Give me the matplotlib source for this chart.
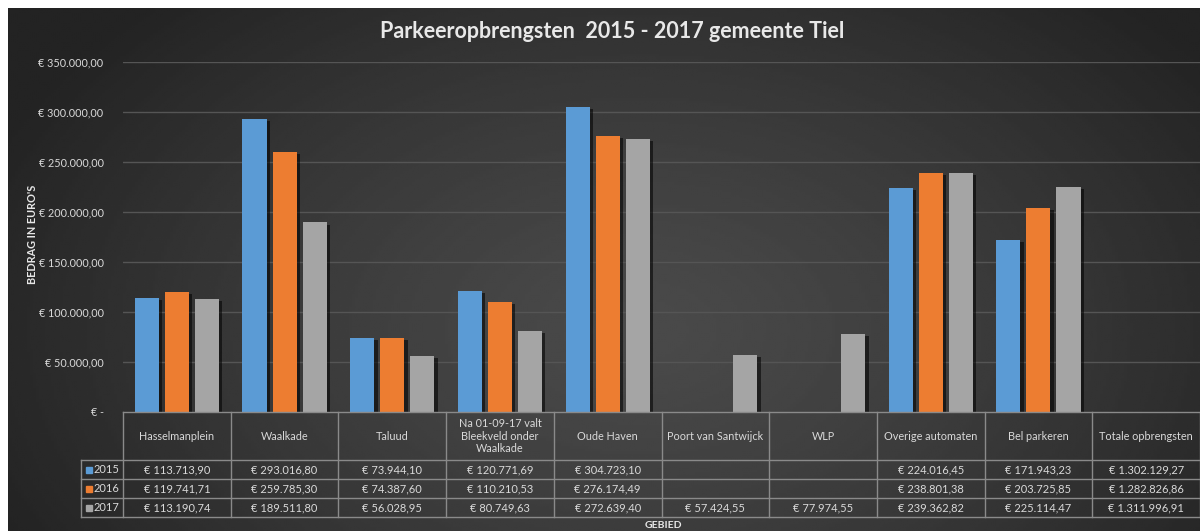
import numpy as np
import matplotlib.pyplot as plt
import matplotlib.patheffects as pe
from matplotlib.transforms import blended_transform_factory

plt.rcParams['font.family'] = ['Lato', 'DejaVu Sans']

gebieden = ['Hasselmanplein', 'Waalkade', 'Taluud',
            'Na 01-09-17 valt\nBleekveld onder\nWaalkade', 'Oude Haven',
            'Poort van Santwijck', 'WLP', 'Overige automaten', 'Bel parkeren',
            'Totale opbrengsten']
jaren = ['2015', '2016', '2017']
opbr_2015 = [113713.90, 293016.80, 73944.10, 120771.69, 304723.10, None, None,
             224016.45, 171943.23, 1302129.27]
opbr_2016 = [119741.71, 259785.30, 74387.60, 110210.53, 276174.49, None, None,
             238801.38, 203725.85, 1282826.86]
opbr_2017 = [113190.74, 189511.80, 56028.95, 80749.63, 272639.40, 57424.55,
             77974.55, 239362.82, 225114.47, 1311996.91]
series = [opbr_2015, opbr_2016, opbr_2017]
kleuren = ['#5b9bd5', '#ed7d31', '#a5a5a5']
yticks = [0, 50000, 100000, 150000, 200000, 250000, 300000, 350000]

txt = '#d9d9d9'
lijn = '#8a8a8a'


def euro(v):
    if v is None:
        return ''
    if v == 0:
        return '€ -'
    s = f'{v:,.2f}'.replace(',', '#').replace('.', ',').replace('#', '.')
    return '€ ' + s


W, H = 1200, 531
fig = plt.figure(figsize=(12, 5.31), dpi=100, facecolor='white')

# achtergrond met radiale gradient
bg = fig.add_axes([0, 0, 1, 1], zorder=-10)
bg.set_xlim(0, W)
bg.set_ylim(H, 0)
bg.axis('off')
xx, yy = np.meshgrid(np.linspace(8, W, 400), np.linspace(8, H, 200))
r = np.sqrt(((xx - 640) / 700) ** 2 + ((yy - 330) / 450) ** 2)
val = 0.29 - 0.15 * np.clip(r, 0, 1) ** 1.3
bg.imshow(val, cmap='gray', vmin=0, vmax=1, extent=[8, W, H, 8],
          aspect='auto', interpolation='bilinear')

ax = fig.add_axes([123 / W, 1 - 412 / H, (W - 123) / W, 350 / H])
ax.set_facecolor('none')
n = len(gebieden)
ax.set_xlim(-0.5, n - 0.5)
ax.set_ylim(0, 350000)

bw = 0.223
step = 0.279
for j, (vals, kl) in enumerate(zip(series, kleuren)):
    # de kolom "Totale opbrengsten" staat alleen in de tabel
    idx = [i for i in range(n - 1) if vals[i] is not None]
    ax.bar([i + (j - 1) * step for i in idx], [vals[i] for i in idx],
           width=bw, color=kl, zorder=3,
           path_effects=[pe.SimplePatchShadow(offset=(2.5, -1.5), shadow_rgbFace='black', alpha=0.55),
                         pe.Normal()])

ax.set_yticks(yticks)
ax.set_yticklabels([euro(v) for v in yticks], color=txt, fontsize=7.8)
ax.tick_params(axis='y', length=0, pad=14)
ax.set_xticks([])
for s in ax.spines.values():
    s.set_visible(False)
for v in yticks[1:]:
    ax.axhline(v, color='#555555', lw=1, zorder=1)

# datatabel onder de grafiek
tr = blended_transform_factory(ax.transData, ax.transAxes)
px = 350.0
y_head = -48 / px
rows = [y_head, -67 / px, -86 / px, -105 / px]
x_leg = -0.5 - 42 / 107.7
x_end = n - 0.5

def hline(y, x0):
    ax.plot([x0, x_end], [y, y], color=lijn, lw=1, transform=tr, clip_on=False, zorder=5)

def vline(x, y0):
    ax.plot([x, x], [y0, rows[-1]], color=lijn, lw=1, transform=tr, clip_on=False, zorder=5)

hline(0, -0.5)
for y in rows:
    hline(y, x_leg)
vline(x_leg, y_head)
for i in range(n + 1):
    vline(i - 0.5, 0)

for i, g in enumerate(gebieden):
    ax.text(i, y_head / 2, g, transform=tr, ha='center', va='center',
            color=txt, fontsize=7.8, linespacing=1.15)
    for j, vals in enumerate(series):
        yc = (rows[j] + rows[j + 1]) / 2
        ax.text(i, yc, euro(vals[i]), transform=tr, ha='center', va='center',
                color=txt, fontsize=8)

for j, (jr, kl) in enumerate(zip(jaren, kleuren)):
    yc = (rows[j] + rows[j + 1]) / 2
    ax.plot([x_leg + 0.07], [yc], marker='s', ms=5, color=kl, transform=tr,
            clip_on=False, zorder=6)
    ax.text(x_leg + 0.12, yc, jr, transform=tr, ha='left', va='center',
            color=txt, fontsize=8)

fig.text(612 / W, 1 - 32 / H, 'Parkeeropbrengsten  2015 - 2017 gemeente Tiel',
         ha='center', va='center', color='#e8e8e8', fontsize=15.5, fontweight='bold')
fig.text(33 / W, 1 - 234 / H, "BEDRAG IN EURO'S", rotation=90, ha='center',
         va='center', color='#e8e8e8', fontsize=7.8, fontweight='bold')
fig.text(663 / W, 1 - 525 / H, 'GEBIED', ha='center', va='center',
         color='#e8e8e8', fontsize=7.5, fontweight='bold')

fig.savefig('out.png', dpi=100)
